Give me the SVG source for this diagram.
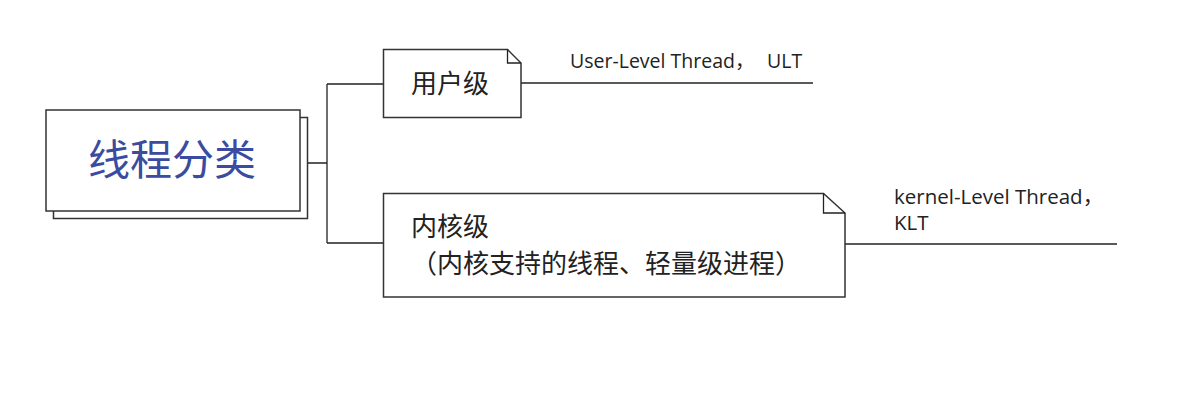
<svg xmlns="http://www.w3.org/2000/svg" width="1201" height="406" viewBox="0 0 1201 406">
<style>
.box{fill:#fff;stroke:#333;stroke-width:1.5}
.ln{fill:none;stroke:#222;stroke-width:1.3}
.t{font-family:"Noto Sans CJK SC","Noto Sans",sans-serif;fill:#222}
.lbl{font-family:"Open Sans","Noto Sans CJK SC",sans-serif;fill:#222}
</style>
<rect width="1201" height="406" fill="#fff"/>
<g id="connectors">
<path class="ln" d="M307,163 H327 M327,84 V243 M327,84 H383 M327,243 H383"/>
<path class="ln" d="M521,83 H813"/>
<path class="ln" d="M845,244 H1117"/>
</g>
<g id="root">
<rect class="box" x="53.5" y="117.5" width="254" height="101"/>
<rect class="box" x="46" y="110" width="254" height="101"/>
<text class="t" x="88" y="175" font-size="42" style="fill:#3B4BA0">线程分类</text>
</g>
<g id="user">
<path class="box" d="M383.5,49.5 H507.5 L521,63 V117.5 H383.5 Z"/>
<path class="ln" d="M507.5,49.5 V63 H521"/>
<text class="t" x="411" y="93" font-size="26">用户级</text>
</g>
<g id="user-label">
<text class="lbl" x="570" y="68" font-size="19.5">User-Level Thread，<tspan x="767">ULT</tspan></text>
</g>
<g id="kernel">
<path class="box" d="M383.5,193.5 H823.5 L845,213 V297 H383.5 Z"/>
<path class="ln" d="M823.5,193.5 V213 H845"/>
<text class="t" x="411" y="236" font-size="26">内核级</text>
<text class="t" x="411" y="273" font-size="26">（内核支持的线程、轻量级进程）</text>
</g>
<g id="kernel-label">
<text class="lbl" x="894" y="204" font-size="20.5">kernel-Level Thread，</text>
<text class="lbl" x="894" y="230" font-size="20.5">KLT</text>
</g>
</svg>
